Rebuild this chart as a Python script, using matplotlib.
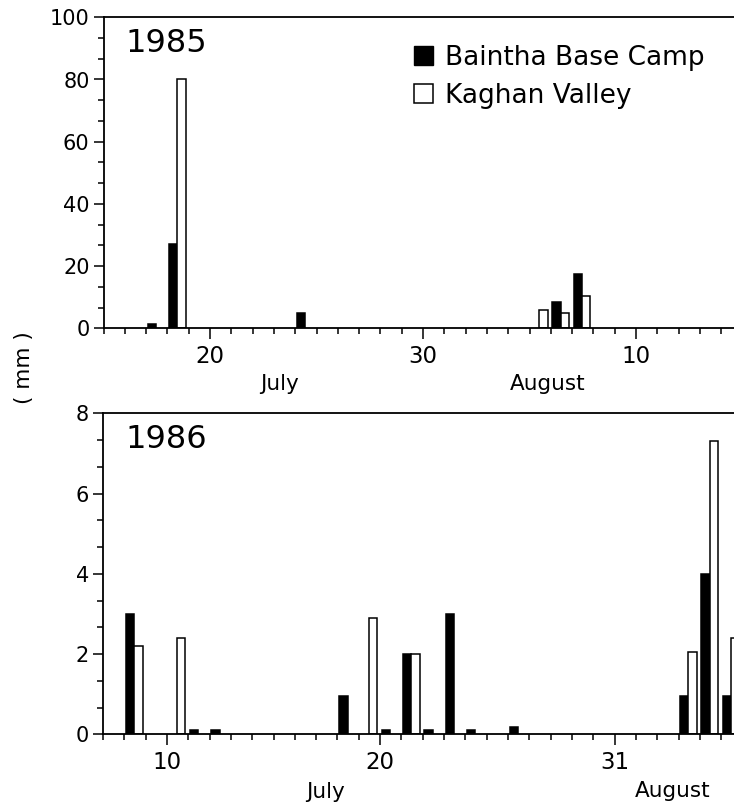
import numpy as np
import matplotlib
matplotlib.use("Agg")
import matplotlib.pyplot as plt
from matplotlib.ticker import MultipleLocator, FixedLocator
from matplotlib.patches import Patch

# ---------------- data ----------------
series_names = ["Baintha Base Camp", "Kaghan Valley"]

# 1985 (day index: July days, August continues after 30)
days_1985_baintha = [17, 18, 24, 36, 37]
rain_1985_baintha = [1.5, 27, 5, 8.5, 17.5]
days_1985_kaghan = [18, 35, 36, 37]
rain_1985_kaghan = [80, 6, 5, 10.5]

# 1986 (day index: July days, August continues after 31)
days_1986_baintha = [8, 11, 12, 18, 20, 21, 22, 23, 24, 26, 34, 35, 36]
rain_1986_baintha = [3.0, 0.1, 0.1, 0.95, 0.1, 2.0, 0.1, 3.0, 0.1, 0.17, 0.95, 4.0, 0.95]
days_1986_kaghan = [8, 10, 19, 21, 34, 35, 36]
rain_1986_kaghan = [2.2, 2.4, 2.9, 2.0, 2.05, 7.3, 2.4]

ticks_1985 = [20, 30, 40]
ticklabels_1985 = ["20", "30", "10"]
ticks_1986 = [10, 20, 31]
ticklabels_1986 = ["10", "20", "31"]
yticks_1985 = [0, 20, 40, 60, 80, 100]
yticks_1986 = [0, 2, 4, 6, 8]

# ---------------- figure ----------------
W, H = 734, 805
fig = plt.figure(figsize=(W / 100, H / 100), dpi=100)
plt.rcParams["font.family"] = ["DejaVu Sans"]

def px_axes(left, top, right, bottom):
    return [left / W, 1 - bottom / H, (right - left) / W, (bottom - top) / H]

ax1 = fig.add_axes(px_axes(103.5, 17.3, 734, 328.3))
ax2 = fig.add_axes(px_axes(103.0, 413.3, 734, 734.3))

BW = 0.4
OFF_B = 0.27
OFF_K = 0.66

def style(ax, xlim, ylim, xt, xtl, yt, yminor):
    ax.set_xlim(*xlim)
    ax.set_ylim(*ylim)
    ax.xaxis.set_major_locator(FixedLocator(xt))
    ax.set_xticklabels(xtl)
    ax.xaxis.set_minor_locator(MultipleLocator(1))
    ax.yaxis.set_major_locator(FixedLocator(yt))
    ax.yaxis.set_minor_locator(MultipleLocator(yminor))
    ax.spines["right"].set_visible(False)
    for s in ["left", "bottom", "top"]:
        ax.spines[s].set_linewidth(1.3)
    ax.tick_params(axis="x", which="major", direction="out", length=8, width=1.1,
                   labelsize=16.5, pad=4)
    ax.tick_params(axis="x", which="minor", direction="out", length=4, width=1.1)
    ax.tick_params(axis="y", which="major", direction="out", length=7, width=1.1,
                   labelsize=15, pad=3)
    ax.tick_params(axis="y", which="minor", direction="out", length=4, width=1.1)

def bars(ax, db, vb, dk, vk):
    ax.bar(np.array(db) + OFF_B, vb, width=BW, color="black", edgecolor="black",
           linewidth=1.1, align="center")
    ax.bar(np.array(dk) + OFF_K, vk, width=BW, color="white", edgecolor="black",
           linewidth=1.1, align="center")

bars(ax1, days_1985_baintha, rain_1985_baintha, days_1985_kaghan, rain_1985_kaghan)
bars(ax2, days_1986_baintha, rain_1986_baintha, days_1986_kaghan, rain_1986_kaghan)

style(ax1, (15.0, 44.6), (0, 100), ticks_1985, ticklabels_1985, yticks_1985, 20 / 3)
style(ax2, (7.0, 36.6), (0, 8), ticks_1986, ticklabels_1986, yticks_1986, 2 / 3)

# year labels
ax1.text(0.035, 0.965, "1985", transform=ax1.transAxes, fontsize=23,
         ha="left", va="top")
ax2.text(0.035, 0.967, "1986", transform=ax2.transAxes, fontsize=23,
         ha="left", va="top")

# month labels
def month(ax, x, txt, off):
    ax.annotate(txt, xy=(x, 0), xycoords=("data", "axes fraction"),
                xytext=(0, -off), textcoords="offset pixels",
                ha="center", va="top", fontsize=15.5)

month(ax1, 23.25, "July", 46)
month(ax1, 35.84, "August", 46)
month(ax2, 17.42, "July", 48)
month(ax2, 33.7, "August", 47)

# legend
handles = [Patch(facecolor="black", edgecolor="black"),
           Patch(facecolor="white", edgecolor="black", linewidth=1.1)]
ax1.legend(handles, series_names, loc="upper left",
           bbox_to_anchor=((414 - 103.5) / 630.5, (328.3 - 45) / 311),
           frameon=False, fontsize=19, handlelength=0.72, handleheight=0.72,
           handletextpad=0.45, labelspacing=0.45, borderpad=0, borderaxespad=0)

fig.text(24 / W, 1 - 368 / H, "( mm )", rotation=90, ha="center", va="center",
         fontsize=15.5)

fig.savefig("out.png", dpi=100)
